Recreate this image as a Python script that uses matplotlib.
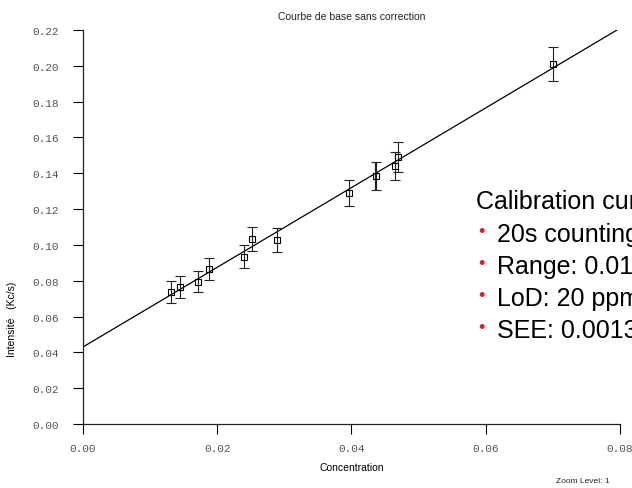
import numpy as np
import matplotlib.pyplot as plt

# measured standards
concentration = [0.0131, 0.0145, 0.0171, 0.0188, 0.0240, 0.0252, 0.0289,
                 0.0396, 0.0437, 0.0465, 0.0470, 0.0700]
intensity = [0.0737, 0.0765, 0.0795, 0.0867, 0.0935, 0.1035, 0.1030,
             0.1290, 0.1385, 0.1440, 0.1490, 0.2010]
error = [0.0060, 0.0060, 0.0058, 0.0062, 0.0065, 0.0067, 0.0067,
         0.0073, 0.0078, 0.0078, 0.0082, 0.0095]
bold_point = 8

# fitted line
intercept = 0.043
slope = 2.225

xticks = [0.00, 0.02, 0.04, 0.06, 0.08]
yticks = [0.00, 0.02, 0.04, 0.06, 0.08, 0.10, 0.12, 0.14, 0.16, 0.18, 0.20, 0.22]

notes_title = "Calibration curve"
notes = ["20s counting time", "Range: 0.01 - 0.07 %", "LoD: 20 ppm", "SEE: 0.0013 %"]

# %%

fig = plt.figure(figsize=(6.32, 4.89), dpi=100)
ax = fig.add_axes([0.1313, 0.1309, 0.8497, 0.8057])

xfit = np.array([0.0, 0.08])
ax.plot(xfit, intercept + slope * xfit, color="black", linewidth=0.9, zorder=2)

for i, (c, v, e) in enumerate(zip(concentration, intensity, error)):
    lw = 1.6 if i == bold_point else 0.8
    ax.errorbar(c, v, yerr=e, fmt="s", mfc="none", mec="black", ms=4.5, mew=0.8,
                ecolor="#222222", elinewidth=lw, capsize=3.3, capthick=lw, zorder=3)

ax.set_xlim(0, 0.08)
ax.set_ylim(0, 0.22)
ax.set_xticks(xticks)
ax.set_yticks(yticks)
ax.set_xticklabels([f"{t:.2f}" for t in xticks], family="Liberation Mono", fontsize=8, color="#555555")
ax.set_yticklabels([f"{t:.2f}" for t in yticks], family="Liberation Mono", fontsize=8, color="#555555")
ax.tick_params(axis="x", direction="out", length=7, width=0.8, pad=7)
ax.tick_params(axis="y", direction="out", length=7, width=0.8, pad=10)
ax.spines["top"].set_visible(False)
ax.spines["right"].set_visible(False)
for s in ["left", "bottom"]:
    ax.spines[s].set_linewidth(0.9)
    ax.spines[s].set_color("#222222")

ax.set_xlabel("Concentration", family="Liberation Sans", fontsize=7.5, labelpad=6)
ax.set_ylabel("Intensité   (Kc/s)", family="Liberation Sans", fontsize=7.5)
ax.yaxis.set_label_coords(-0.123, 0.267)
fig.text(0.557, 0.965, "Courbe de base sans correction", family="Liberation Sans",
         fontsize=7.5, ha="center", va="center", color="#222222")
fig.text(0.922, 0.016, "Zoom Level: 1", family="Liberation Sans", fontsize=6,
         ha="center", va="center", color="#222222")

# overlay text (cut at the right edge as in the slide)
fig.text(476 / 632, 1 - 209 / 489, notes_title, family="Liberation Sans",
         fontsize=18, ha="left", va="baseline")
for k, line in enumerate(notes):
    yb = 1 - (242 + 32 * k) / 489
    fig.text(481 / 632, yb + 0.019, "•", family="Liberation Sans", fontsize=13,
             color="#e8192c", ha="center", va="center")
    fig.text(497 / 632, yb, line, family="Liberation Sans", fontsize=18,
             ha="left", va="baseline")

fig.savefig("out.png", dpi=100)
